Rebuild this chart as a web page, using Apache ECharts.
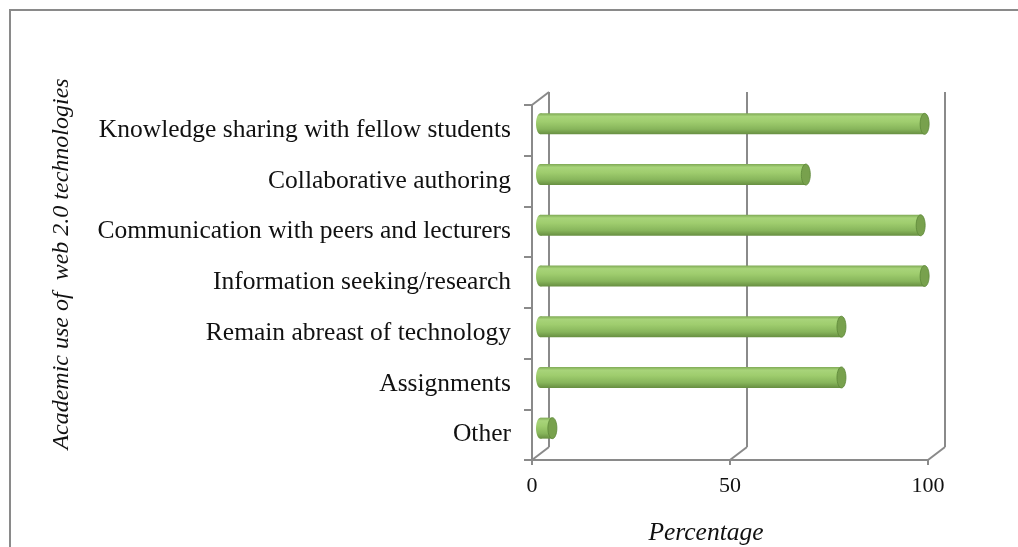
<!DOCTYPE html>
<html>
<head>
<meta charset="utf-8">
<script src="https://cdn.jsdelivr.net/npm/echarts@6/dist/echarts.min.js"></script>
<style>
  html, body { margin: 0; padding: 0; background: #fff; }
  #chart { width: 1018px; height: 547px; }
</style>
</head>
<body>
<div id="chart"></div>
<script>
  // data
  let categories = ['Knowledge sharing with fellow students', 'Collaborative authoring',
    'Communication with peers and lecturers', 'Information seeking/research',
    'Remain abreast of technology', 'Assignments', 'Other']
  let values = [97, 67, 96, 97, 76, 76, 3]
  let xTicks = [0, 50, 100]

  let font = '"Liberation Serif", "Times New Roman", serif'
  let gridColor = '#8a8a8a'
  // depth of the 3d box
  let depthX = 17
  let depthY = -13

  let myChart = echarts.init(document.getElementById('chart'))

  function cylinder (params, api) {
    let c = api.value(1)
    let p0 = api.coord([0, c])
    let p1 = api.coord([api.value(0), c])
    let ox = depthX / 2
    let oy = depthY / 2
    let cy = p0[1] + oy
    let x0 = p0[0] + ox
    let x1 = p1[0] + ox
    let h = 10.5
    let rx = 4.5
    let body = new echarts.graphic.LinearGradient(0, 0, 0, 1, [
      {offset: 0, color: '#7fa955'},
      {offset: 0.15, color: '#a8d47a'},
      {offset: 0.4, color: '#9fcd6e'},
      {offset: 0.75, color: '#87b55b'},
      {offset: 1, color: '#678e41'}
    ])
    return {
      type: 'group',
      children: [
        {type: 'ellipse', shape: {cx: x0, cy: cy, rx: rx, ry: h}, style: {fill: body}},
        {type: 'rect', shape: {x: x0, y: cy - h, width: Math.max(x1 - x0, 0), height: h * 2}, style: {fill: body}},
        {type: 'ellipse', shape: {cx: x1, cy: cy, rx: rx, ry: h},
          style: {fill: '#78a14d', stroke: '#5c8637', lineWidth: 0.8}}
      ]
    }
  }

  function frame (params, api) {
    let v = api.value(0)
    let lines = []
    let b = api.coord([v, categories.length - 1])
    let bottom = b[1] + api.size([0, 1])[1] / 2
    lines.push({type: 'line', shape: {x1: b[0], y1: bottom, x2: b[0] + depthX, y2: bottom + depthY},
      style: {stroke: gridColor, lineWidth: 2}})
    if (v === 0) {
      let t = api.coord([0, 0])
      let top = t[1] - api.size([0, 1])[1] / 2
      lines.push({type: 'line', shape: {x1: t[0], y1: top, x2: t[0] + depthX, y2: top + depthY},
        style: {stroke: gridColor, lineWidth: 2}})
    }
    return {type: 'group', children: lines}
  }

  let option = {
    animation: false,
    grid: [
      {left: 532, top: 105, width: 396, height: 355},
      {left: 532 + depthX, top: 105 + depthY, width: 396, height: 355}
    ],
    xAxis: [
      {
        type: 'value', gridIndex: 0, min: 0, max: 100, interval: 50,
        axisLine: {show: true, lineStyle: {color: gridColor, width: 2}},
        axisTick: {show: true, length: 5, lineStyle: {color: gridColor, width: 2}},
        splitLine: {show: false},
        axisLabel: {margin: 15, fontFamily: font, fontSize: 22, color: '#111'}
      },
      {
        type: 'value', gridIndex: 1, min: 0, max: 100, interval: 50,
        axisLine: {show: false}, axisTick: {show: false}, axisLabel: {show: false},
        splitLine: {show: true, lineStyle: {color: gridColor, width: 2}}
      }
    ],
    yAxis: [
      {
        type: 'category', gridIndex: 0, data: categories, inverse: true,
        axisLine: {show: true, lineStyle: {color: gridColor, width: 2}},
        axisTick: {show: true, length: 8, lineStyle: {color: gridColor, width: 2}},
        axisLabel: {margin: 21, fontFamily: font, fontSize: 25.5, color: '#111'}
      },
      {
        type: 'category', gridIndex: 1, data: categories, inverse: true, show: false
      }
    ],
    graphic: [
      {type: 'rect', shape: {x: 10, y: 10, width: 1100, height: 600},
        style: {fill: 'none', stroke: '#8a8a8a', lineWidth: 2}, silent: true},
      {type: 'text', x: 62, y: 264, rotation: Math.PI / 2,
        style: {text: 'Academic use of  web 2.0 technologies', fontFamily: font, fontStyle: 'italic',
          fontSize: 24, fill: '#111', align: 'center', verticalAlign: 'middle'}},
      {type: 'text', x: 706, y: 533,
        style: {text: 'Percentage', fontFamily: font, fontStyle: 'italic',
          fontSize: 25.5, fill: '#111', align: 'center', verticalAlign: 'middle'}}
    ],
    series: [
      {
        type: 'custom', xAxisIndex: 0, yAxisIndex: 0, renderItem: frame,
        data: xTicks.map(t => [t]), z: 1, silent: true
      },
      {
        type: 'custom', xAxisIndex: 0, yAxisIndex: 0, renderItem: cylinder,
        data: values.map((v, i) => [v, i]), z: 5
      }
    ]
  }
  myChart.setOption(option)
</script>
</body>
</html>
